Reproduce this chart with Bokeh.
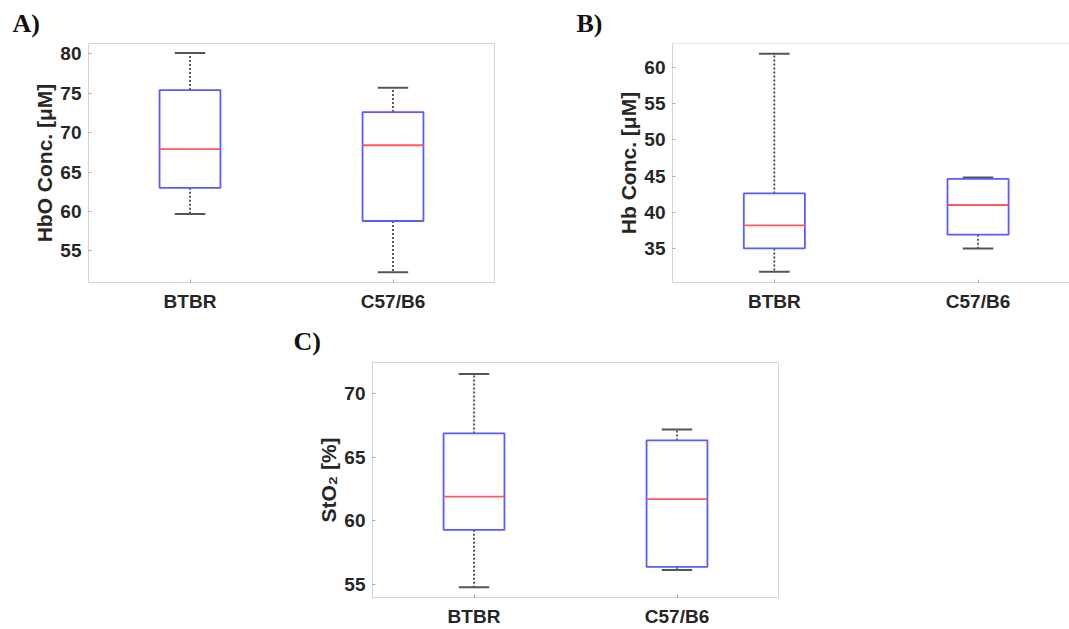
from bokeh.plotting import figure
from bokeh.models import SingleIntervalTicker, FixedTicker, Range1d, Spacer, ColumnDataSource, Span
from bokeh.layouts import row, column
from bokeh.embed import file_html
from bokeh.resources import INLINE

# ---------------- data ----------------
categories = ["BTBR", "C57/B6"]

hbo_upper = [80.1, 75.7]
hbo_q3 = [75.4, 72.6]
hbo_median = [67.9, 68.4]
hbo_q1 = [63.0, 58.8]
hbo_lower = [59.7, 52.3]

hb_upper = [61.9, 44.8]
hb_q3 = [42.6, 44.6]
hb_median = [38.2, 41.0]
hb_q1 = [35.0, 36.9]
hb_lower = [31.8, 35.0]

sto2_upper = [71.5, 67.15]
sto2_q3 = [66.85, 66.3]
sto2_median = [61.9, 61.7]
sto2_q1 = [59.3, 56.4]
sto2_lower = [54.8, 56.15]

FONT = "Liberation Sans"
TXT = "#262626"
EDGE = "#d4d4d4"
TICK = "#a8a8a8"
BOX_W = 0.3
CAP_W = 0.15


def style_axis(ax):
    ax.axis_line_color = EDGE
    ax.axis_line_width = 1
    ax.major_tick_in = 3
    ax.major_tick_out = 0
    ax.minor_tick_line_color = None
    ax.major_tick_line_color = TICK
    ax.major_label_text_font = FONT
    ax.major_label_text_font_style = "bold"
    ax.major_label_text_font_size = "19px"
    ax.major_label_text_color = TXT


def make_panel(tag, ylabel, yr, ytick, upper, q3, med, q1, lower,
               width, height, mbl, mbr, mbt, mbb, xend, toff, tstand,
               closed=True):
    p = figure(width=width, height=height,
               x_range=Range1d(0.5, xend), y_range=Range1d(*yr),
               output_backend="svg", toolbar_location=None,
               min_border_left=mbl, min_border_right=mbr,
               min_border_top=mbt, min_border_bottom=mbb)
    p.xgrid.visible = False
    p.ygrid.visible = False
    p.background_fill_color = "white"
    p.border_fill_color = "white"
    if closed:
        p.outline_line_color = EDGE
        p.outline_line_width = 1
    else:
        p.outline_line_color = None
        p.add_layout(Span(location=yr[1], dimension="width",
                          line_color=EDGE, line_width=1))

    p.title.text = tag
    p.title.text_font = "Liberation Serif"
    p.title.text_font_style = "bold"
    p.title.text_font_size = "26px"
    p.title.text_color = "#111111"
    p.title.align = "left"
    p.title.offset = toff
    p.title.standoff = tstand

    xs = [i + 1 for i in range(len(categories))]
    overrides = {x: c for x, c in zip(xs, categories)}

    xa = p.xaxis[0]
    xa.ticker = FixedTicker(ticks=xs)
    xa.major_label_overrides = overrides
    style_axis(xa)
    xa.major_label_standoff = 8

    ya = p.yaxis[0]
    ya.ticker = SingleIntervalTicker(interval=ytick)
    style_axis(ya)
    ya.major_label_standoff = 3
    ya.axis_label = ylabel
    ya.axis_label_text_font = FONT
    ya.axis_label_text_font_style = "bold"
    ya.axis_label_text_font_size = "21px"
    ya.axis_label_text_color = TXT
    ya.axis_label_standoff = 1

    src = ColumnDataSource(dict(
        x=xs, upper=upper, q3=q3, med=med, q1=q1, lower=lower,
        bl=[x - BOX_W / 2 for x in xs], br=[x + BOX_W / 2 for x in xs],
        cl=[x - CAP_W / 2 for x in xs], cr=[x + CAP_W / 2 for x in xs],
    ))
    # whiskers
    p.segment(x0="x", y0="q3", x1="x", y1="upper", source=src,
              line_color="#333333", line_width=1.6, line_dash="2 2")
    p.segment(x0="x", y0="q1", x1="x", y1="lower", source=src,
              line_color="#333333", line_width=1.6, line_dash="2 2")
    # caps
    p.segment(x0="cl", y0="upper", x1="cr", y1="upper", source=src,
              line_color="#555555", line_width=2)
    p.segment(x0="cl", y0="lower", x1="cr", y1="lower", source=src,
              line_color="#555555", line_width=2)
    # boxes
    p.quad(left="bl", right="br", top="q3", bottom="q1", source=src,
           fill_color=None, line_color="#5a5aff", line_width=1.8)
    # medians
    p.segment(x0="bl", y0="med", x1="br", y1="med", source=src,
              line_color="#ff5a5a", line_width=1.8)
    return p


pA = make_panel("A)", "HbO Conc. [μM]", (51.0, 81.3), 5,
                hbo_upper, hbo_q3, hbo_median, hbo_q1, hbo_lower,
                width=560, height=318, mbl=88, mbr=66, mbt=43, mbb=36,
                xend=2.5, toff=-76, tstand=11)

pB = make_panel("B)", "Hb Conc. [μM]", (30.3, 63.3), 5,
                hb_upper, hb_q3, hb_median, hb_q1, hb_lower,
                width=509, height=318, mbl=112, mbr=0, mbt=43, mbb=36,
                xend=0.5 + 397 / 203.7, toff=-96, tstand=11, closed=False)

pC = make_panel("C)", "StO₂ [%]", (54.0, 72.4), 5,
                sto2_upper, sto2_q3, sto2_median, sto2_q1, sto2_lower,
                width=510, height=311, mbl=92, mbr=12, mbt=44, mbb=30,
                xend=2.5, toff=-79, tstand=13)

layout = column(row(pA, pB), row(Spacer(width=280, height=311), pC))

open("out.html", "w").write(file_html(layout, INLINE))
